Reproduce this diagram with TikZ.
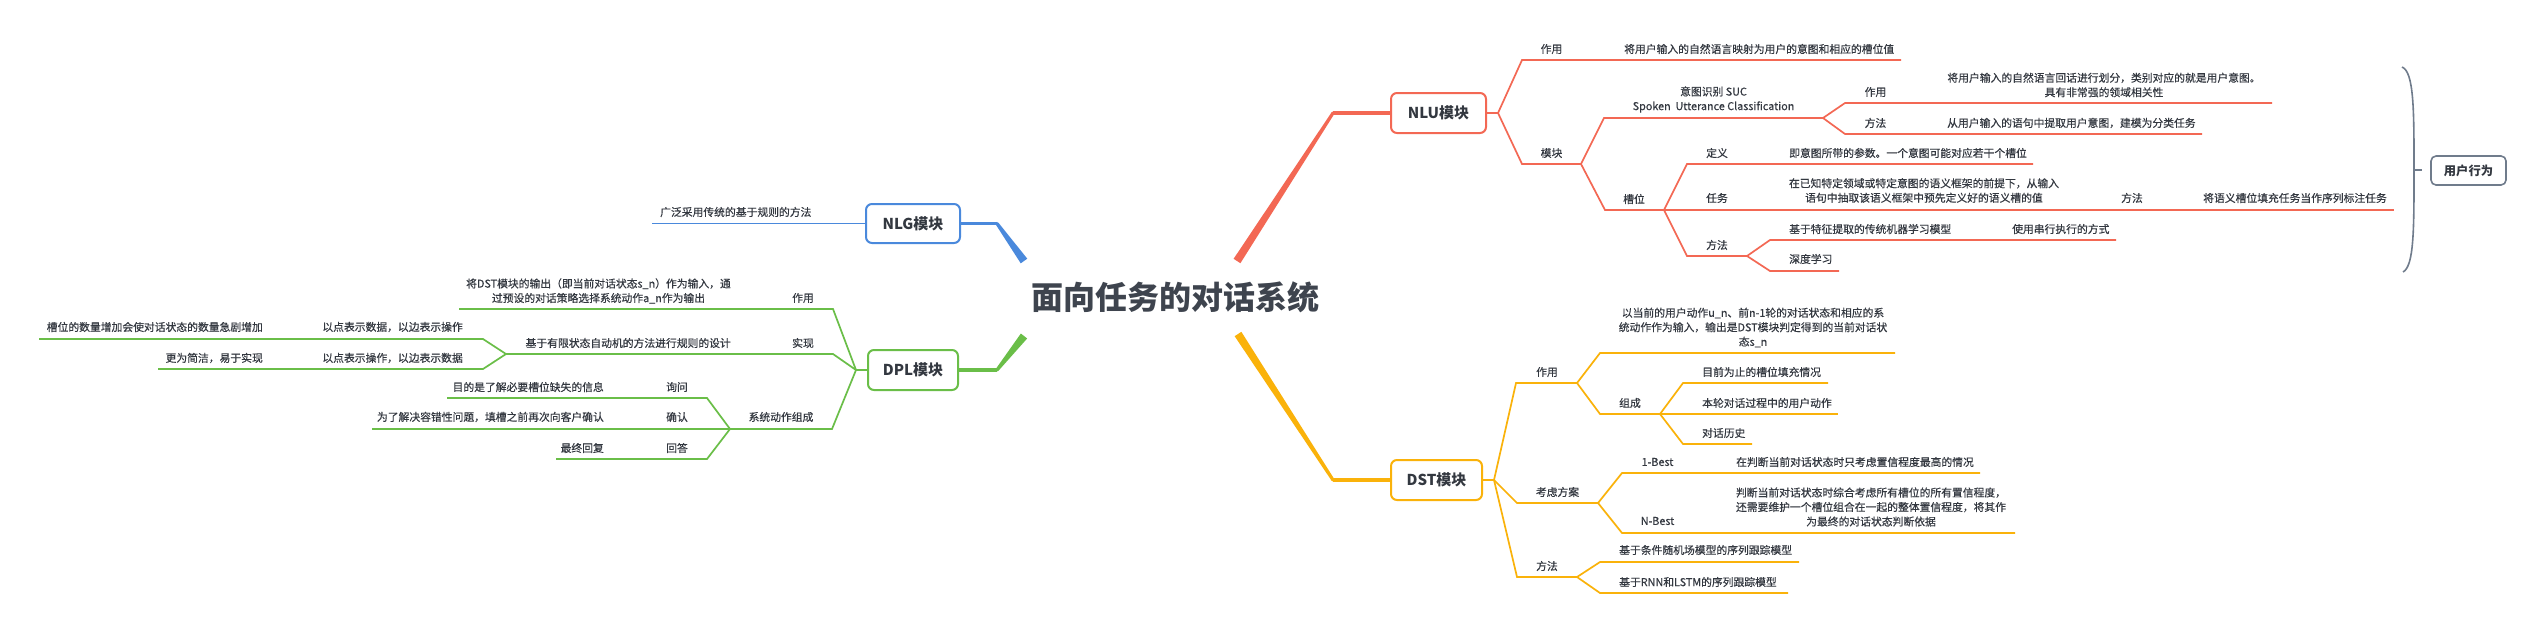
\documentclass[tikz,border=0pt]{standalone}
\usepackage{fontspec}
\setmainfont{Noto Sans CJK SC}
\newfontfamily\txtfont{Noto Sans CJK SC}[FakeBold=0.4]
\definecolor{nluc}{RGB}{243,104,84}
\definecolor{dstc}{RGB}{250,178,10}
\definecolor{nlgc}{RGB}{74,137,220}
\definecolor{dplc}{RGB}{106,190,72}
\definecolor{grayc}{RGB}{112,124,140}
\definecolor{textc}{RGB}{51,56,64}
\definecolor{titlec}{RGB}{62,68,78}
\newcommand\mmbranch[6]{%
  \coordinate (#3a) at (#4,#6);
  \coordinate (#3b) at (#5,#6);
  \draw[#1] (#2) -- (#3a) -- (#3b);}
\tikzset{
  txt/.style={font=\txtfont\fontsize{10.8}{14.5}\selectfont, text=textc, inner sep=0pt},
  lab/.style={txt},
  mbox/.style={rounded corners=6, line width=2, fill=white, text=textc,
    font=\bfseries\fontsize{15}{18}\selectfont, inner sep=0pt},
  nlul/.style={draw=nluc, line width=1.7},
  dstl/.style={draw=dstc, line width=1.7},
  nlgl/.style={draw=nlgc, line width=1.7},
  dpll/.style={draw=dplc, line width=1.7},
  bracel/.style={draw=grayc, line width=1.6},
  mainl/.style={line width=3.2},
}
\begin{document}
\begin{tikzpicture}[x=1pt,y=-1pt]
\useasboundingbox[fill=white] (0,0) rectangle (2545,633);

\node[font=\bfseries\fontsize{32}{36}\selectfont, text=titlec, inner sep=0pt] (title) at (1175,297) {面向任务的对话系统};

% ---------- boxes ----------
\node[mbox, draw=nluc, minimum width=95, minimum height=40] (nlu) at (1438.5,113) {NLU模块};
\node[mbox, draw=dstc, minimum width=91, minimum height=40] (dst) at (1436.5,480) {DST模块};
\node[mbox, draw=nlgc, minimum width=94, minimum height=39] (nlg) at (913,223.5) {NLG模块};
\node[mbox, draw=dplc, minimum width=90, minimum height=40] (dpl) at (913,370) {DPL模块};

% ---------- main branches (tapered) ----------
\coordinate (cnlu) at (1333,113);
\coordinate (cdst) at (1333,480);
\coordinate (cnlg) at (997,223.5);
\coordinate (cdpl) at (997,370);
\fill[nluc] (1240.4,263.2) -- (1334.3,113.9) -- (1331.7,112.1) -- (1233.6,258.8) -- cycle;
\fill[nluc] (cnlu) circle (1.6);
\draw[mainl, nluc] (cnlu) -- (nlu.west);
\fill[dstc] (1241.35,331.8) -- (1334.3,479.1) -- (1331.7,480.9) -- (1234.65,336.2) -- cycle;
\fill[dstc] (cdst) circle (1.6);
\draw[mainl, dstc] (cdst) -- (dst.west);
\fill[nlgc] (1027.25,258.66) -- (998.3,222.57) -- (995.7,224.43) -- (1020.75,263.34) -- cycle;
\fill[nlgc] (cnlg) circle (1.6);
\draw[mainl, nlgc] (cnlg) -- (nlg.east);
\fill[dplc] (1027.13,338.49) -- (998.25,371) -- (995.75,369) -- (1020.87,333.51) -- cycle;
\fill[dplc] (cdpl) circle (1.6);
\draw[mainl, dplc] (cdpl) -- (dpl.east);

% ---------- NLU ----------
\coordinate (nj) at (1498,113);
\draw[nlul] (nlu.east) -- (nj);
\mmbranch{nlul}{nj}{nzy}{1522}{1901}{60}
\node[lab] (nzyt) at (1551.5,49) {作用};
\node[txt,anchor=west] (nzyc) at (1624,49) {将用户输入的自然语言映射为用户的意图和相应的槽位值};
\mmbranch{nlul}{nj}{nmk}{1522}{1581}{164}
\node[lab] (nmkt) at (1551.5,153) {模块};
\mmbranch{nlul}{nmkb}{nsuc}{1604}{1823}{118}
\node[txt,align=center] (nsuct) at (1713.5,99.5) {意图识别 SUC\\Spoken\ \ Utterance Classification};
\mmbranch{nlul}{nsucb}{nsz}{1845}{2272}{103}
\node[lab] (nszt) at (1875.5,92) {作用};
\node[txt,align=center] (nszc) at (2104,85) {将用户输入的自然语言回话进行划分，类别对应的就是用户意图。\\具有非常强的领域相关性};
\mmbranch{nlul}{nsucb}{nsf}{1845}{2202}{134}
\node[lab] (nsft) at (1875.5,123) {方法};
\node[txt,anchor=west] (nsfc) at (1947,123) {从用户输入的语句中提取用户意图，建模为分类任务};
\mmbranch{nlul}{nmkb}{ncw}{1605}{1664}{210}
\node[lab] (ncwt) at (1634,199) {槽位};
\mmbranch{nlul}{ncwb}{ndy}{1687}{2033}{164}
\node[lab] (ndyt) at (1717,153) {定义};
\node[txt,anchor=west] (ndyc) at (1789,153) {即意图所带的参数。一个意图可能对应若干个槽位};
\coordinate (nrw) at (2394,210);
\draw[nlul] (ncwb) -- (nrw);
\node[lab] (nrwt) at (1717,198) {任务};
\node[txt,align=center] (nrwc) at (1924,190.5) {在已知特定领域或特定意图的语义框架的前提下，从输入\\语句中抽取该语义框架中预先定义好的语义槽的值};
\node[lab] (nrwf) at (2132,198) {方法};
\node[txt,anchor=west] (nrwg) at (2203,198) {将语义槽位填充任务当作序列标注任务};
\mmbranch{nlul}{ncwb}{nff}{1687}{1747}{256}
\node[lab] (nfft) at (1717,245) {方法};
\mmbranch{nlul}{nffb}{ntz}{1770}{2116}{240}
\node[txt,anchor=west] (ntzc) at (1789,229) {基于特征提取的传统机器学习模型};
\node[txt,anchor=west] (ntzd) at (2012,229) {使用串行执行的方式};
\mmbranch{nlul}{nffb}{nsd}{1770}{1839}{271}
\node[txt,anchor=west] (nsdc) at (1789,259) {深度学习};

% brace + user behaviour
\node[mbox, draw=grayc, line width=1.6, rounded corners=5, minimum width=75, minimum height=29,
  font=\bfseries\fontsize{12.3}{15}\selectfont] (yh) at (2468.5,170.5) {用户行为};
\coordinate (brt) at (2402,67);
\coordinate (brb) at (2403,272);
\coordinate (brm) at (2414,170);
\coordinate (brk) at (2422,170);
\draw[bracel] (brt) .. controls (2414,72) and (2414,110) .. (brm)
  .. controls (2414,230) and (2414,266) .. (brb);
\draw[bracel] (brm) -- (brk);

% ---------- DST ----------
\coordinate (dj) at (1494,480);
\draw[dstl] (dst.east) -- (dj);
\mmbranch{dstl}{dj}{dzy}{1516}{1577}{383}
\node[lab] (dzyt) at (1547,372) {作用};
\mmbranch{dstl}{dzyb}{dzc}{1600}{1895}{353}
\node[txt,align=center] (dzcc) at (1753,327.5) {以当前的用户动作u\_n、前n-1轮的对话状态和相应的系\\统动作作为输入，输出是DST模块判定得到的当前对话状\\态s\_n};
\mmbranch{dstl}{dzyb}{dzch}{1600}{1660}{414}
\node[lab] (dzcht) at (1630,403) {组成};
\mmbranch{dstl}{dzchb}{dq1}{1683}{1828}{383}
\node[txt,anchor=west] (dq1t) at (1702,372) {目前为止的槽位填充情况};
\coordinate (dq2) at (1838,414);
\draw[dstl] (dzchb) -- (dq2);
\node[txt,anchor=west] (dq2t) at (1702,403) {本轮对话过程中的用户动作};
\mmbranch{dstl}{dzchb}{dq3}{1683}{1752}{444}
\node[txt,anchor=west] (dq3t) at (1702,433) {对话历史};
\mmbranch{dstl}{dj}{dka}{1517}{1598}{503}
\node[lab] (dkat) at (1557.5,492) {考虑方案};
\mmbranch{dstl}{dkab}{db1}{1622}{1980}{473}
\node[lab] (db1t) at (1657.5,462) {1-Best};
\node[txt,anchor=west] (db1c) at (1736,462) {在判断当前对话状态时只考虑置信程度最高的情况};
\mmbranch{dstl}{dkab}{dbn}{1622}{2015}{533}
\node[lab] (dbnt) at (1657.5,521) {N-Best};
\node[txt,align=center] (dbnc) at (1871,507) {判断当前对话状态时综合考虑所有槽位的所有置信程度，\\还需要维护一个槽位组合在一起的整体置信程度，将其作\\为最终的对话状态判断依据};
\mmbranch{dstl}{dj}{dff}{1517}{1577}{577}
\node[lab] (dfft) at (1547,566) {方法};
\mmbranch{dstl}{dffb}{dm1}{1600}{1799}{562}
\node[txt,anchor=west] (dm1t) at (1619,550) {基于条件随机场模型的序列跟踪模型};
\mmbranch{dstl}{dffb}{dm2}{1600}{1788}{593}
\node[txt,anchor=west] (dm2t) at (1619,582) {基于RNN和LSTM的序列跟踪模型};

% ---------- NLG ----------
\coordinate (gend) at (652,223.5);
\draw[nlgl] (nlg.west) -- (gend);
\node[txt,anchor=west] (nlgc1) at (660,212) {广泛采用传统的基于规则的方法};

% ---------- DPL ----------
\coordinate (pj) at (856,370);
\draw[dpll] (dpl.west) -- (pj);
\mmbranch{dpll}{pj}{pzy}{833}{459}{309}
\node[lab] (pzyt) at (803,298) {作用};
\node[txt,align=center] (pzyc) at (598.5,291) {将DST模块的输出（即当前对话状态s\_n）作为输入，通\\过预设的对话策略选择系统动作a\_n作为输出};
\mmbranch{dpll}{pj}{psx}{833}{506}{354}
\node[lab] (psxt) at (803,343) {实现};
\node[txt,anchor=east] (psxc) at (731,343) {基于有限状态自动机的方法进行规则的设计};
\mmbranch{dpll}{psxb}{pd1}{483}{39}{339}
\node[txt,anchor=east] (pd1t) at (463,327) {以点表示数据，以边表示操作};
\node[txt,anchor=east] (pd1c) at (263,327) {槽位的数量增加会使对话状态的数量急剧增加};
\mmbranch{dpll}{psxb}{pd2}{483}{158}{369}
\node[txt,anchor=east] (pd2t) at (463,358) {以点表示操作，以边表示数据};
\node[txt,anchor=east] (pd2c) at (263,358) {更为简洁，易于实现};
\mmbranch{dpll}{pj}{pzc}{832}{730}{429}
\node[lab] (pzct) at (781,417) {系统动作组成};
\mmbranch{dpll}{pzcb}{pa1}{707}{447}{398}
\node[lab] (pa1t) at (677,387) {询问};
\node[txt,anchor=east] (pa1c) at (604,387) {目的是了解必要槽位缺失的信息};
\coordinate (pa2) at (372,429);
\draw[dpll] (pzcb) -- (pa2);
\node[lab] (pa2t) at (677,417) {确认};
\node[txt,anchor=east] (pa2c) at (604,417) {为了解决容错性问题，填槽之前再次向客户确认};
\mmbranch{dpll}{pzcb}{pa3}{707}{556}{459}
\node[lab] (pa3t) at (677,448) {回答};
\node[txt,anchor=east] (pa3c) at (604,448) {最终回复};
\end{tikzpicture}
\end{document}
